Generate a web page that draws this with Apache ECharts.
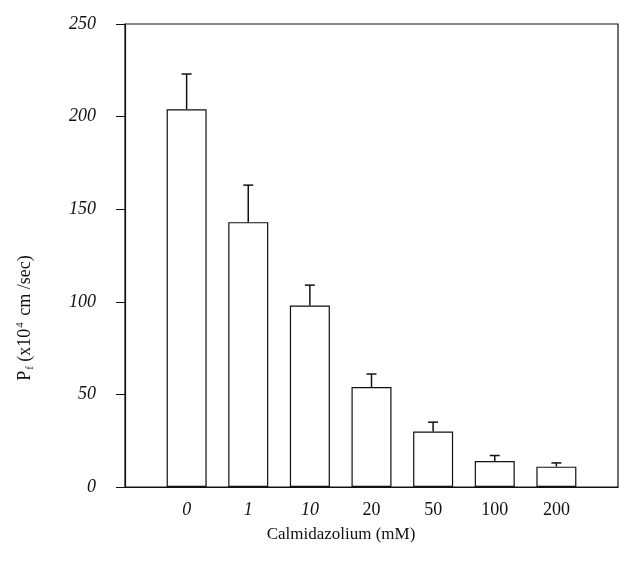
<!DOCTYPE html>
<html>
<head>
<meta charset="utf-8">
<script src="https://cdn.jsdelivr.net/npm/echarts@6/dist/echarts.min.js"></script>
<style>
  html, body { margin: 0; padding: 0; background: #fff; }
  #chart { width: 625px; height: 572px; }
</style>
</head>
<body>
<div id="chart"></div>
<script>
// data
const doses = ['0', '1', '10', '20', '50', '100', '200'];
const pfValues = [204, 143, 98, 54, 30, 14, 11];
const pfErrors = [19, 20, 11, 7, 5, 3, 2];
const italicDoses = ['0', '1', '10'];

// empty slots on both ends so the bars sit like in the original plot
const categories = [''].concat(doses, ['']);
const barData = [null].concat(pfValues, [null]);
const errData = doses.map((d, i) => [i + 1, pfValues[i], pfErrors[i]]);

const chart = echarts.init(document.getElementById('chart'));
const serif = '"Liberation Serif", "DejaVu Serif", serif';

chart.setOption({
  backgroundColor: '#fff',
  animation: false,
  grid: {
    left: 125, right: 7, top: 24, bottom: 85,
    show: true, borderColor: '#111', borderWidth: 1.2
  },
  xAxis: {
    type: 'category',
    data: categories,
    boundaryGap: false,
    axisLine: { lineStyle: { color: '#111', width: 1.2 } },
    axisTick: { show: false },
    splitLine: { show: false },
    axisLabel: {
      margin: 14,
      fontFamily: serif,
      fontSize: 18,
      color: '#111',
      formatter: v => italicDoses.includes(v) ? '{i|' + v + '}' : v,
      rich: { i: { fontStyle: 'italic', fontFamily: serif, fontSize: 18, color: '#111' } }
    }
  },
  yAxis: {
    type: 'value',
    min: 0, max: 250, interval: 50,
    axisLine: { show: true, lineStyle: { color: '#111', width: 1.2 } },
    axisTick: { show: true, length: 9, lineStyle: { color: '#111' } },
    splitLine: { show: false },
    axisLabel: {
      margin: 29,
      fontFamily: serif,
      fontStyle: 'italic',
      fontSize: 18,
      color: '#111'
    }
  },
  graphic: [
    {
      type: 'text',
      x: 341, y: 535,
      style: {
        text: 'Calmidazolium (mM)',
        font: '17px ' + serif,
        fill: '#111',
        align: 'center',
        verticalAlign: 'middle'
      }
    },
    {
      type: 'text',
      x: 25, y: 318,
      rotation: Math.PI / 2,
      style: {
        text: '{m|P}{s|f}{m| (x10}{u|4}{m| cm /sec)}',
        align: 'center',
        verticalAlign: 'middle',
        rich: {
          m: { font: '18px ' + serif, fill: '#111' },
          s: { font: '11px ' + serif, fill: '#111', padding: [10, 0, 0, 1] },
          u: { font: '11px ' + serif, fill: '#111', padding: [0, 2, 10, 1] }
        }
      }
    }
  ],
  series: [
    {
      type: 'bar',
      data: barData,
      barWidth: 40,
      itemStyle: { color: '#fff', borderColor: '#111', borderWidth: 1.2 }
    },
    {
      type: 'custom',
      data: errData,
      z: 5,
      renderItem: (params, api) => {
        const base = api.coord([api.value(0), api.value(1)]);
        const top = api.coord([api.value(0), api.value(1) + api.value(2)]);
        const st = { stroke: '#111', lineWidth: 1.5 };
        return {
          type: 'group',
          children: [
            { type: 'line', shape: { x1: base[0], y1: base[1], x2: top[0], y2: top[1] }, style: st },
            { type: 'line', shape: { x1: top[0] - 5, y1: top[1], x2: top[0] + 5, y2: top[1] }, style: st }
          ]
        };
      }
    }
  ]
});
</script>
</body>
</html>
